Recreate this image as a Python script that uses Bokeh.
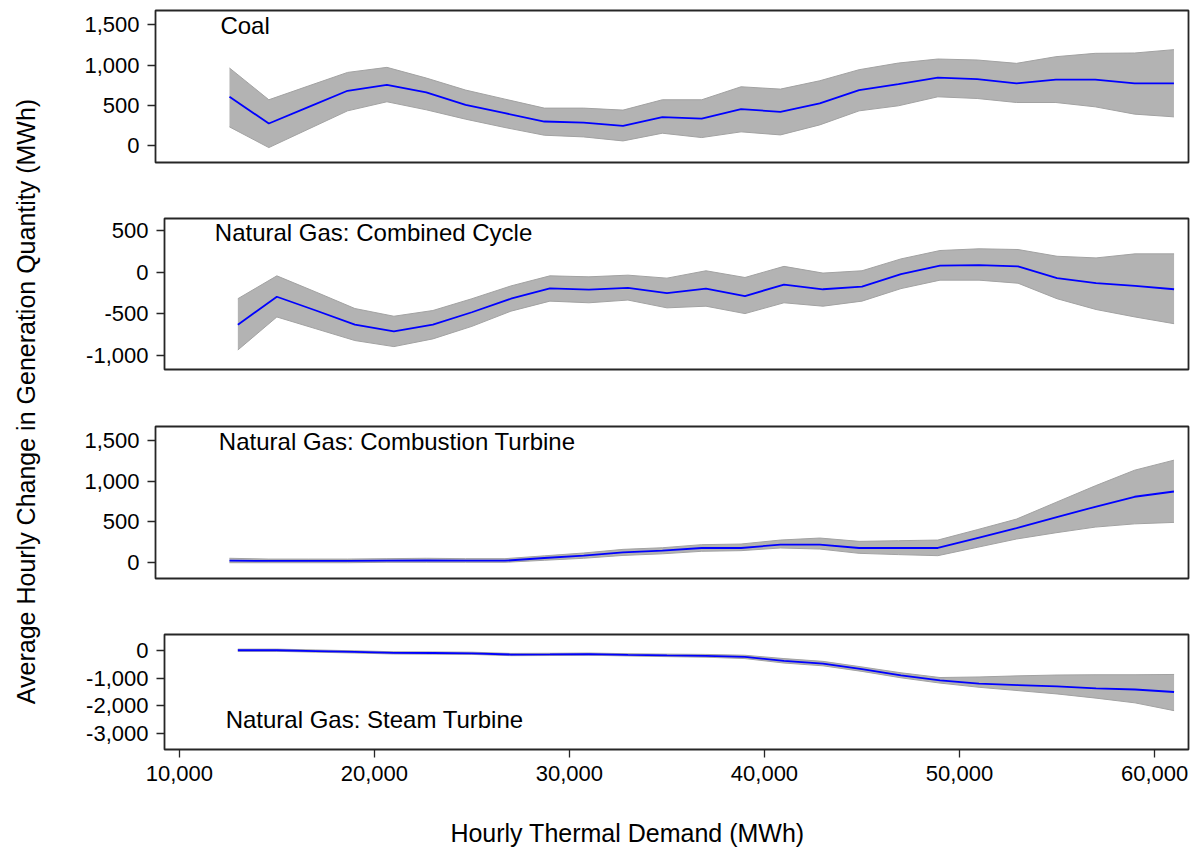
from bokeh.plotting import figure
from bokeh.layouts import row, column
from bokeh.models import Range1d, FixedTicker, NumeralTickFormatter, Label
from bokeh.embed import file_html
from bokeh.resources import INLINE
import math

# Hourly thermal demand bins (MWh)
demand = [13000, 15000, 17000, 19000, 21000, 23000, 25000, 27000, 29000, 31000,
          33000, 35000, 37000, 39000, 41000, 43000, 45000, 47000, 49000, 51000,
          53000, 55000, 57000, 59000, 61000]

# Coal
coal_mean = [604, 271, 475, 679, 754, 658, 504, 400, 296, 283, 242, 350, 333,
             450, 417, 521, 688, 763, 842, 825, 771, 817, 817, 771, 771]
coal_upper = [963, 567, 738, 908, 971, 838, 688, 575, 463, 463, 438, 567, 567,
              729, 700, 804, 942, 1025, 1075, 1063, 1021, 1104, 1146, 1150, 1192]
coal_lower = [229, -29, 200, 429, 542, 442, 325, 221, 125, 104, 54, 150, 96,
              167, 129, 254, 429, 492, 604, 583, 533, 533, 479, 388, 354]

# Natural gas: combined cycle
ngcc_mean = [-630, -293, -459, -630, -711, -630, -480, -317, -191, -207, -187, -250, -195,
             -285, -146, -203, -171, -20, 81, 89, 73, -69, -130, -163, -203]
ngcc_upper = [-317, -41, -236, -435, -528, -459, -317, -163, -41, -53, -33, -69, 20,
              -61, 73, -8, 20, 163, 264, 285, 276, 195, 175, 224, 224]
ngcc_lower = [-935, -537, -679, -821, -894, -801, -650, -467, -346, -366, -333, -427, -407,
              -496, -366, -407, -346, -195, -93, -93, -130, -317, -447, -537, -618]

# Natural gas: combustion turbine
ct_mean = [20, 18, 18, 18, 22, 25, 22, 20, 53, 82, 123, 144, 177,
           177, 218, 218, 177, 177, 177, 300, 423, 555, 686, 810, 875]
ct_upper = [50, 40, 40, 40, 45, 50, 45, 45, 80, 115, 160, 180, 218,
            226, 275, 300, 259, 267, 275, 403, 534, 740, 945, 1138, 1262]
ct_lower = [-5, -5, -5, -5, 0, 0, 0, 0, 25, 50, 85, 105, 136,
            144, 177, 164, 111, 95, 82, 185, 288, 365, 435, 475, 493]

# Natural gas: steam turbine
st_mean = [0, 0, -30, -60, -95, -100, -110, -155, -150, -140, -165, -185, -200,
           -240, -380, -480, -680, -900, -1080, -1200, -1250, -1300, -1370, -1410, -1500]
st_upper = [40, 40, 10, -20, -55, -60, -70, -115, -110, -100, -125, -140, -150,
            -180, -300, -400, -600, -810, -980, -960, -920, -890, -880, -880, -870]
st_lower = [-40, -40, -70, -100, -135, -140, -150, -195, -190, -180, -205, -230, -250,
            -300, -460, -560, -760, -990, -1180, -1330, -1450, -1570, -1720, -1890, -2170]

x_ticks = [10000, 20000, 30000, 40000, 50000, 60000]

FONT = "Liberation Sans"
TICK_SIZE = "22px"
TITLE_SIZE = "24px"
AXIS_TITLE_SIZE = "25px"

LABEL_W = 50
PANEL_W = 1196 - LABEL_W


def panel(mean, upper, lower, y_range, y_ticks, title, title_xy, height,
          border_left, border_top, border_bottom, show_x=False):
    p = figure(width=PANEL_W, height=height, output_backend="svg", toolbar_location=None,
               x_range=Range1d(9240, 61740), y_range=Range1d(*y_range),
               min_border_left=border_left, min_border_right=8,
               min_border_top=border_top, min_border_bottom=border_bottom)
    p.frame_align = False
    p.title.visible = False
    p.grid.visible = False
    p.background_fill_color = "white"
    p.border_fill_color = "white"
    p.outline_line_color = "#262626"
    p.outline_line_width = 1.8

    p.varea(x=demand, y1=lower, y2=upper, fill_color="#b3b3b3", fill_alpha=1.0)
    p.line(demand, upper, line_color="#a2a2a2", line_width=1)
    p.line(demand, lower, line_color="#a2a2a2", line_width=1)
    p.line(demand, mean, line_color="#0000ff", line_width=1.8)

    yax = p.yaxis[0]
    yax.ticker = FixedTicker(ticks=y_ticks)
    yax.formatter = NumeralTickFormatter(format="0,0")
    yax.axis_line_color = None
    yax.major_tick_out = 8
    yax.major_tick_in = 0
    yax.minor_tick_line_color = None
    yax.major_tick_line_color = "#262626"
    yax.major_tick_line_width = 1.3
    yax.major_label_standoff = 8
    yax.major_label_text_font = FONT
    yax.major_label_text_font_size = TICK_SIZE
    yax.major_label_text_color = "black"

    xax = p.xaxis[0]
    if show_x:
        xax.ticker = FixedTicker(ticks=x_ticks)
        xax.formatter = NumeralTickFormatter(format="0,0")
        xax.axis_line_color = None
        xax.major_tick_out = 8
        xax.major_tick_in = 0
        xax.minor_tick_line_color = None
        xax.major_tick_line_color = "#262626"
        xax.major_tick_line_width = 1.3
        xax.major_label_standoff = 8
        xax.major_label_text_font = FONT
        xax.major_label_text_font_size = TICK_SIZE
        xax.major_label_text_color = "black"
    else:
        xax.visible = False

    p.add_layout(Label(x=title_xy[0], y=title_xy[1], text=title,
                       text_font=FONT, text_font_size=TITLE_SIZE,
                       text_color="black", text_baseline="alphabetic",
                       text_align="left"))
    return p


def text_strip(width, height, text, x, y, angle=0.0):
    """A bare canvas holding a single piece of title text."""
    f = figure(width=width, height=height, output_backend="svg", toolbar_location=None,
               x_range=Range1d(0, width), y_range=Range1d(0, height),
               x_axis_type=None, y_axis_type=None,
               min_border_left=0, min_border_right=0, min_border_top=0, min_border_bottom=0)
    f.frame_align = False
    f.title.visible = False
    f.grid.visible = False
    f.outline_line_color = None
    f.add_layout(Label(x=x, y=y, text=text, angle=angle,
                       text_align="center", text_baseline="middle",
                       text_font=FONT, text_font_size=AXIS_TITLE_SIZE, text_color="black"))
    return f


p1 = panel(coal_mean, coal_upper, coal_lower, (-215, 1680), [0, 500, 1000, 1500],
           "Coal", (12540, 1492), 190, 105, 10, 28)
p2 = panel(ngcc_mean, ngcc_upper, ngcc_lower, (-1170, 650), [-1000, -500, 0, 500],
           "Natural Gas: Combined Cycle", (11820, 476), 207, 114, 28, 28)
p3 = panel(ct_mean, ct_upper, ct_lower, (-200, 1678), [0, 500, 1000, 1500],
           "Natural Gas: Combustion Turbine", (12460, 1497), 209, 105, 29, 28)
p4 = panel(st_mean, st_upper, st_lower, (-3565, 565), [-3000, -2000, -1000, 0],
           "Natural Gas: Steam Turbine", (12376, -2496), 203, 114, 28, 60, show_x=True)

# Horizontal axis title under the stacked panels
x_title = text_strip(PANEL_W, 39, "Hourly Thermal Demand (MWh)", 577, 16)

# Shared vertical axis title
y_title = text_strip(LABEL_W, 848, "Average Hourly Change in Generation Quantity (MWh)",
                     25, 447, angle=math.pi / 2)

layout = row(y_title, column(p1, p2, p3, p4, x_title))
open("out.html", "w").write(file_html(layout, INLINE))
